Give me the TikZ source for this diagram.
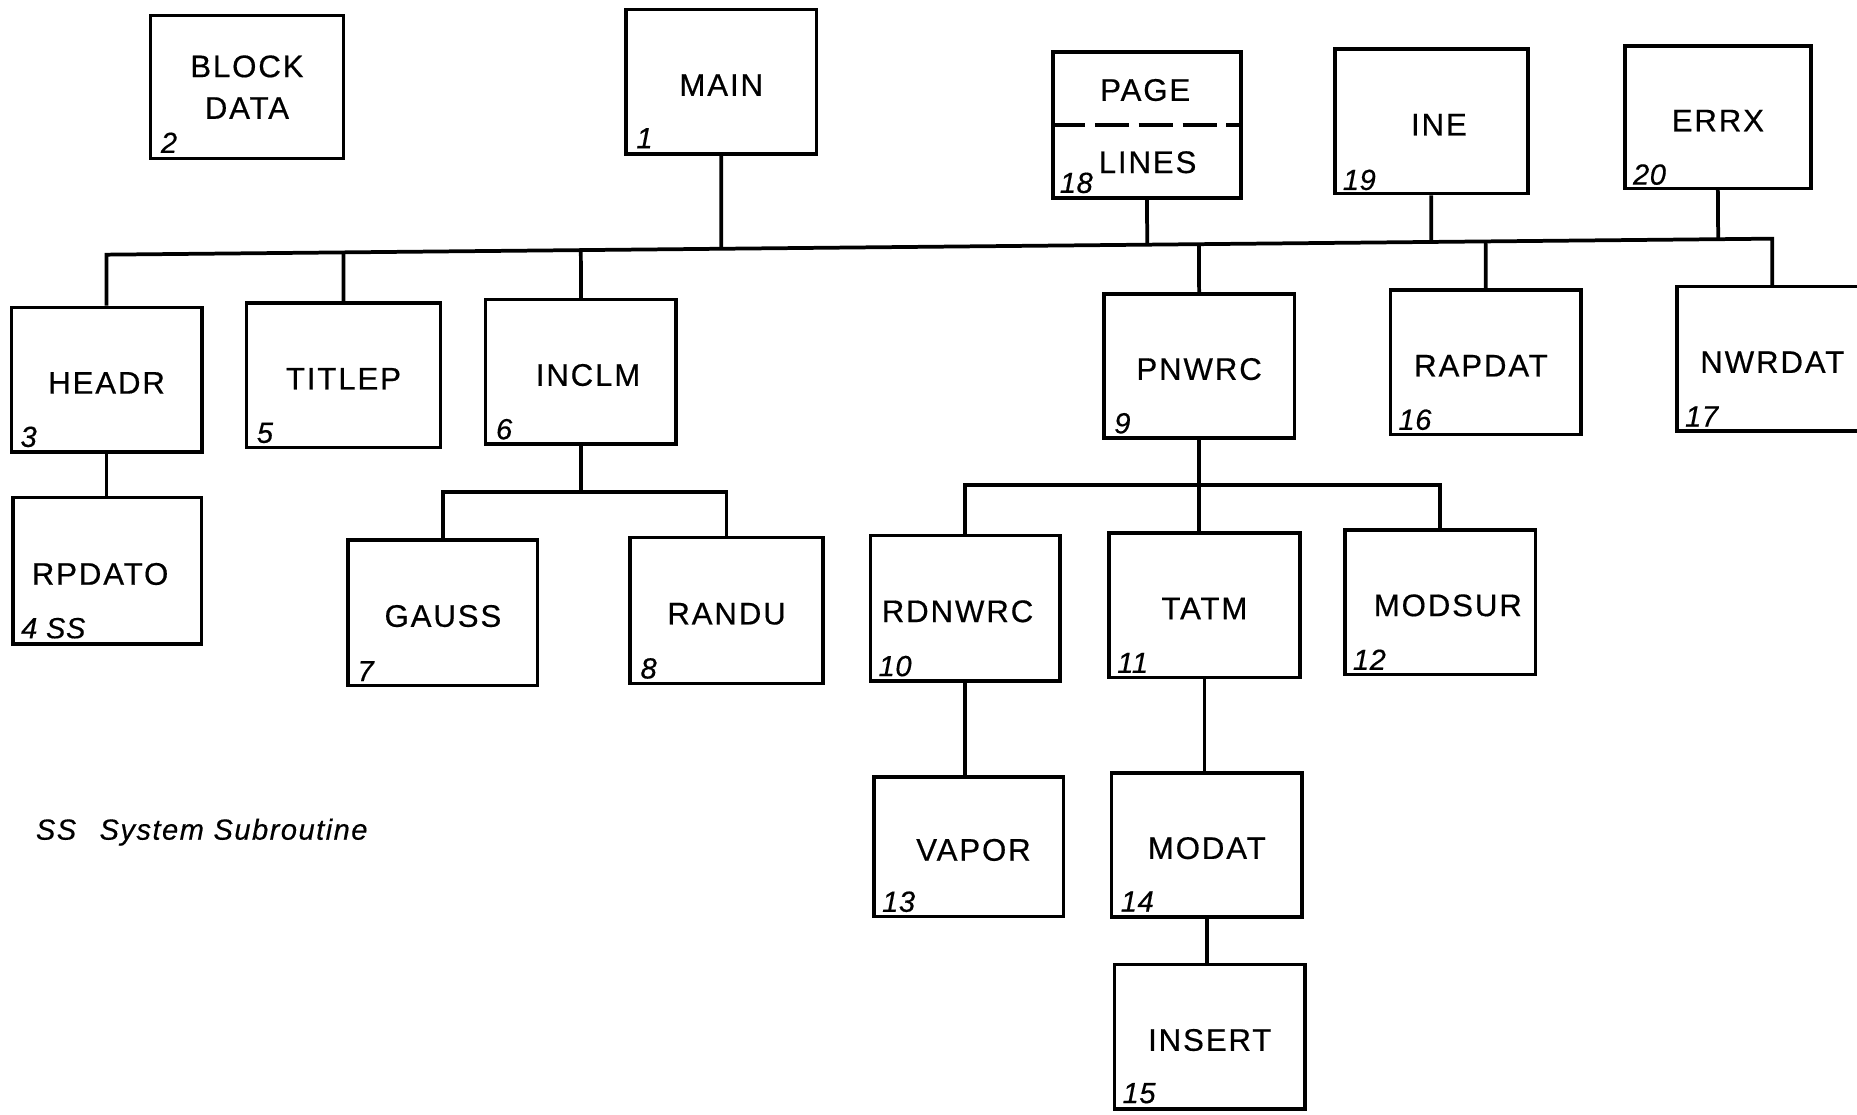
\documentclass[tikz,border=0pt]{standalone}
\usepackage{fontspec}
\setmainfont{Liberation Sans}
\newfontfamily\lettering{Liberation Sans}[LetterSpace=6, FakeBold=0.5]
\newfontfamily\figures{Liberation Sans}[LetterSpace=2, FakeBold=0.4]
\usetikzlibrary{calc}

\tikzset{
  plainbox/.style={draw, line width=1.7pt, minimum width=3.22cm, minimum height=2.44cm,
              inner sep=0pt, align=center,
              font=\fontsize{15}{20}\selectfont\lettering},
  box/.style={plainbox, text height=13.5pt},
  nudge/.style={execute at begin node={\hspace*{#1}}},
  num/.style={anchor=south west, inner sep=0pt, font=\fontsize{14}{16}\selectfont\figures\itshape},
  boxtext/.style={inner sep=0pt, font=\fontsize{15}{18}\selectfont\lettering},
  link/.style={line width=1.8pt},
}

\begin{document}
\begin{tikzpicture}[x=0.02cm, y=-0.02cm]
\useasboundingbox (0,0) rectangle (1568,941);
\clip (0,0) rectangle (1568,941);

% top row
\node[plainbox, minimum width=3.26cm, minimum height=2.42cm] (blockdata) at (208.5,73.5) {BLOCK\\DATA};
\node[box] (main) at (609,69) {MAIN};
\node[box, minimum width=3.18cm, minimum height=2.46cm] (page) at (968.5,105.5) {};
\node[boxtext] (pagetxt) at (967,76) {PAGE};
\node[boxtext] (linestxt) at (969,137) {LINES};
\draw[line width=1.6pt, dash pattern=on 0.58cm off 0.16cm] (page.west) -- (page.east);
\node[box, minimum width=3.26cm, nudge=0.26cm] (ine) at (1208.5,102.5) {INE};
\node[box, minimum width=3.14cm, minimum height=2.4cm] (errx) at (1450.5,99) {ERRX};

% second row
\node[box] (headr) at (90,320.5) {HEADR};
\node[box, minimum width=3.28cm] (titlep) at (290,317) {TITLEP};
\node[box, nudge=0.24cm] (inclm) at (490.5,314) {INCLM};
\node[box] (pnwrc) at (1012.5,309) {PNWRC};
\node[box, nudge=-0.16cm] (rapdat) at (1254.5,306) {RAPDAT};
\node[box] (nwrdat) at (1496.5,303) {NWRDAT};

% third row
\node[box, minimum width=3.18cm, minimum height=2.48cm, nudge=-0.24cm] (rpdato) at (90.5,482) {RPDATO};
\node[box, minimum width=3.2cm, minimum height=2.46cm] (gauss) at (374,517.5) {GAUSS};
\node[box, minimum width=3.26cm, minimum height=2.46cm] (randu) at (613.5,515.5) {RANDU};
\node[box, minimum width=3.2cm, minimum height=2.46cm, nudge=-0.26cm] (rdnwrc) at (815,513.5) {RDNWRC};
\node[box] (tatm) at (1017,511) {TATM};
\node[box, nudge=0.26cm] (modsur) at (1216,508.5) {MODSUR};

% lower rows
\node[box, minimum width=3.2cm, minimum height=2.36cm, nudge=0.16cm] (vapor) at (818,715) {VAPOR};
\node[box] (modat) at (1019,713.5) {MODAT};
\node[box] (insert) at (1021.5,875.5) {INSERT};

% sequence numbers
\node[num] (n2)  at ($(blockdata.south west)+(10,-6)$) {2};
\node[num] (n1)  at ($(main.south west)+(10,-6)$) {1};
\node[num] (n18) at ($(page.south west)+(7,-5)$) {18};
\node[num] (n19) at ($(ine.south west)+(8,-4)$) {19};
\node[num] (n20) at ($(errx.south west)+(8,-4)$) {20};
\node[num] (n3)  at ($(headr.south west)+(9,-5)$) {3};
\node[num] (n5)  at ($(titlep.south west)+(10,-5)$) {5};
\node[num] (n6)  at ($(inclm.south west)+(10,-5)$) {6};
\node[num] (n9)  at ($(pnwrc.south west)+(10,-5)$) {9};
\node[num] (n16) at ($(rapdat.south west)+(8,-5)$) {16};
\node[num] (n17) at ($(nwrdat.south west)+(8,-5)$) {17};
\node[num] (n4)  at ($(rpdato.south west)+(8,-6)$) {4 SS};
\node[num] (n7)  at ($(gauss.south west)+(9,-5)$) {7};
\node[num] (n8)  at ($(randu.south west)+(10,-5)$) {8};
\node[num] (n10) at ($(rdnwrc.south west)+(8,-5)$) {10};
\node[num] (n11) at ($(tatm.south west)+(8,-5)$) {11};
\node[num] (n12) at ($(modsur.south west)+(8,-5)$) {12};
\node[num] (n13) at ($(vapor.south west)+(8,-5)$) {13};
\node[num] (n14) at ($(modat.south west)+(9,-6)$) {14};
\node[num] (n15) at ($(insert.south west)+(8,-6)$) {15};

% legend
\node[anchor=base west, inner sep=0pt, font=\fontsize{14}{16}\selectfont\figures\itshape\addfontfeatures{LetterSpace=5}]
  (legend) at (30,709) {SS\hspace{0.8em}System Subroutine};

% main call bus
\coordinate (busL) at ($(headr.north)+(0,-43)$);
\coordinate (busR) at ($(nwrdat.north)+(0,-39)$);
\draw[link] (headr.north) -- (busL) -- (busR) -- (nwrdat.north);
\foreach \n in {main, page, ine, errx}
  \draw[link] (\n.south) -- (intersection of \n.south--\n.north and busL--busR);
\foreach \n in {titlep, inclm, pnwrc, rapdat}
  \draw[link] (\n.north) -- (intersection of \n.north--\n.south and busL--busR);

% HEADR branch
\draw[link] (headr.south) -- (headr.south |- rpdato.north);

% INCLM branch
\coordinate (sbA) at ($(inclm.south)+(0,39)$);
\draw[link] (inclm.south) -- (sbA);
\draw[link] (gauss.north) -- (gauss.north |- sbA) -- (randu.north |- sbA) -- (randu.north);

% PNWRC branch
\coordinate (sbB) at ($(pnwrc.south)+(0,38)$);
\draw[link] (pnwrc.south) -- (pnwrc.south |- tatm.north);
\draw[link] (rdnwrc.north) -- (rdnwrc.north |- sbB) -- (modsur.north |- sbB) -- (modsur.north);

% lower chains
\draw[link] (rdnwrc.south) -- (rdnwrc.south |- vapor.north);
\draw[link] (tatm.south) -- (tatm.south |- modat.north);
\draw[link] (modat.south) -- (modat.south |- insert.north);
\end{tikzpicture}
\end{document}
